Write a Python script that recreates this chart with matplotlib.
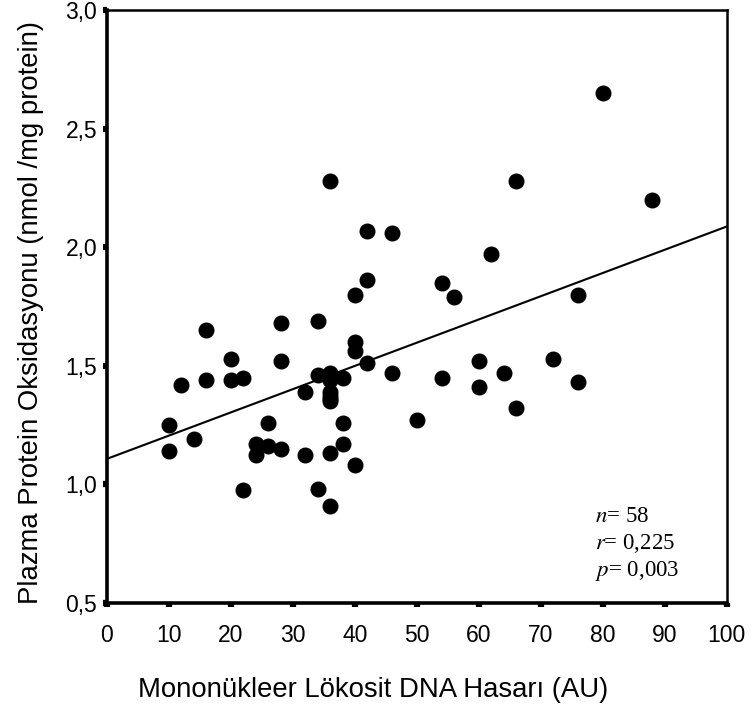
import numpy as np
import matplotlib
matplotlib.use("Agg")
import matplotlib.pyplot as plt
from matplotlib.ticker import FuncFormatter

# DNA damage (AU) and plasma protein oxidation (nmol/mg protein)
dna_hasari = [36, 42, 46, 42, 40, 28, 34, 16, 80, 66, 88, 62, 54, 56, 76,
              40, 40, 42, 46, 20, 28, 12, 16, 20, 22, 34, 36, 36, 38, 32,
              36, 36, 36, 36, 10, 26, 38, 50, 14, 10, 24, 26, 28, 24, 32,
              36, 38, 40, 22, 34, 36, 54, 60, 60, 64, 72, 76, 66]
protein_oks = [2.28, 2.07, 2.06, 1.86, 1.80, 1.68, 1.69, 1.65, 2.65, 2.28, 2.20, 1.97, 1.85, 1.79, 1.80,
               1.60, 1.56, 1.51, 1.47, 1.53, 1.52, 1.42, 1.44, 1.44, 1.45, 1.46, 1.47, 1.44, 1.45, 1.39,
               1.39, 1.37, 1.36, 1.35, 1.25, 1.26, 1.26, 1.27, 1.19, 1.14, 1.17, 1.16, 1.15, 1.125, 1.125,
               1.13, 1.17, 1.08, 0.975, 0.98, 0.91, 1.45, 1.52, 1.41, 1.47, 1.53, 1.43, 1.32]

# fitted line as drawn in the figure
intercept = 1.107
slope = 0.0098

x_ticks = [0, 10, 20, 30, 40, 50, 60, 70, 80, 90, 100]
y_ticks = [0.5, 1.0, 1.5, 2.0, 2.5, 3.0]

plt.rcParams['font.family'] = ['Liberation Sans', 'DejaVu Sans']
plt.rcParams['mathtext.fontset'] = 'stix'

fig = plt.figure(figsize=(7.55, 7.15), dpi=100)
ax = fig.add_axes([0.1417, 0.157, 0.821, 0.829])

ax.plot(dna_hasari, protein_oks, 'o', color='black', markersize=10.5, zorder=3)

xs = np.array([0, 100])
ax.plot(xs, intercept + slope * xs, color='black', linewidth=1.5, zorder=2)

ax.set_xlim(0, 100)
ax.set_ylim(0.5, 3.0)
ax.set_xticks(x_ticks)
ax.set_yticks(y_ticks)
ax.yaxis.set_major_formatter(FuncFormatter(lambda v, p: f"{v:.1f}".replace('.', ',')))

ax.tick_params(direction='out', length=3, width=4.5, labelsize=16.5, color='black')
ax.tick_params(axis='x', pad=12)
ax.tick_params(axis='y', pad=4)

for side in ['left', 'bottom']:
    ax.spines[side].set_linewidth(2.6)
for side in ['top', 'right']:
    ax.spines[side].set_linewidth(1.8)

# x label sits centred on the figure rather than the axes
fig.text(0.494, 0.035, "Mononükleer Lökosit DNA Hasarı (AU)", fontsize=19.8,
         ha='center', va='center')
ax.set_ylabel("Plazma Protein Oksidasyonu (nmol /mg protein)", fontsize=19.8)
ax.yaxis.set_label_coords(-0.102, 0.49)

stat_font = {'family': 'Liberation Serif', 'size': 16.5}
ax.text(0.787, 0.137, r"$\mathit{n}$= 58", transform=ax.transAxes, fontdict=stat_font)
ax.text(0.787, 0.091, r"$\mathit{r}$= 0,225", transform=ax.transAxes, fontdict=stat_font)
ax.text(0.787, 0.045, r"$\mathit{p}$= 0,003", transform=ax.transAxes, fontdict=stat_font)

fig.savefig("out.png", dpi=100)
